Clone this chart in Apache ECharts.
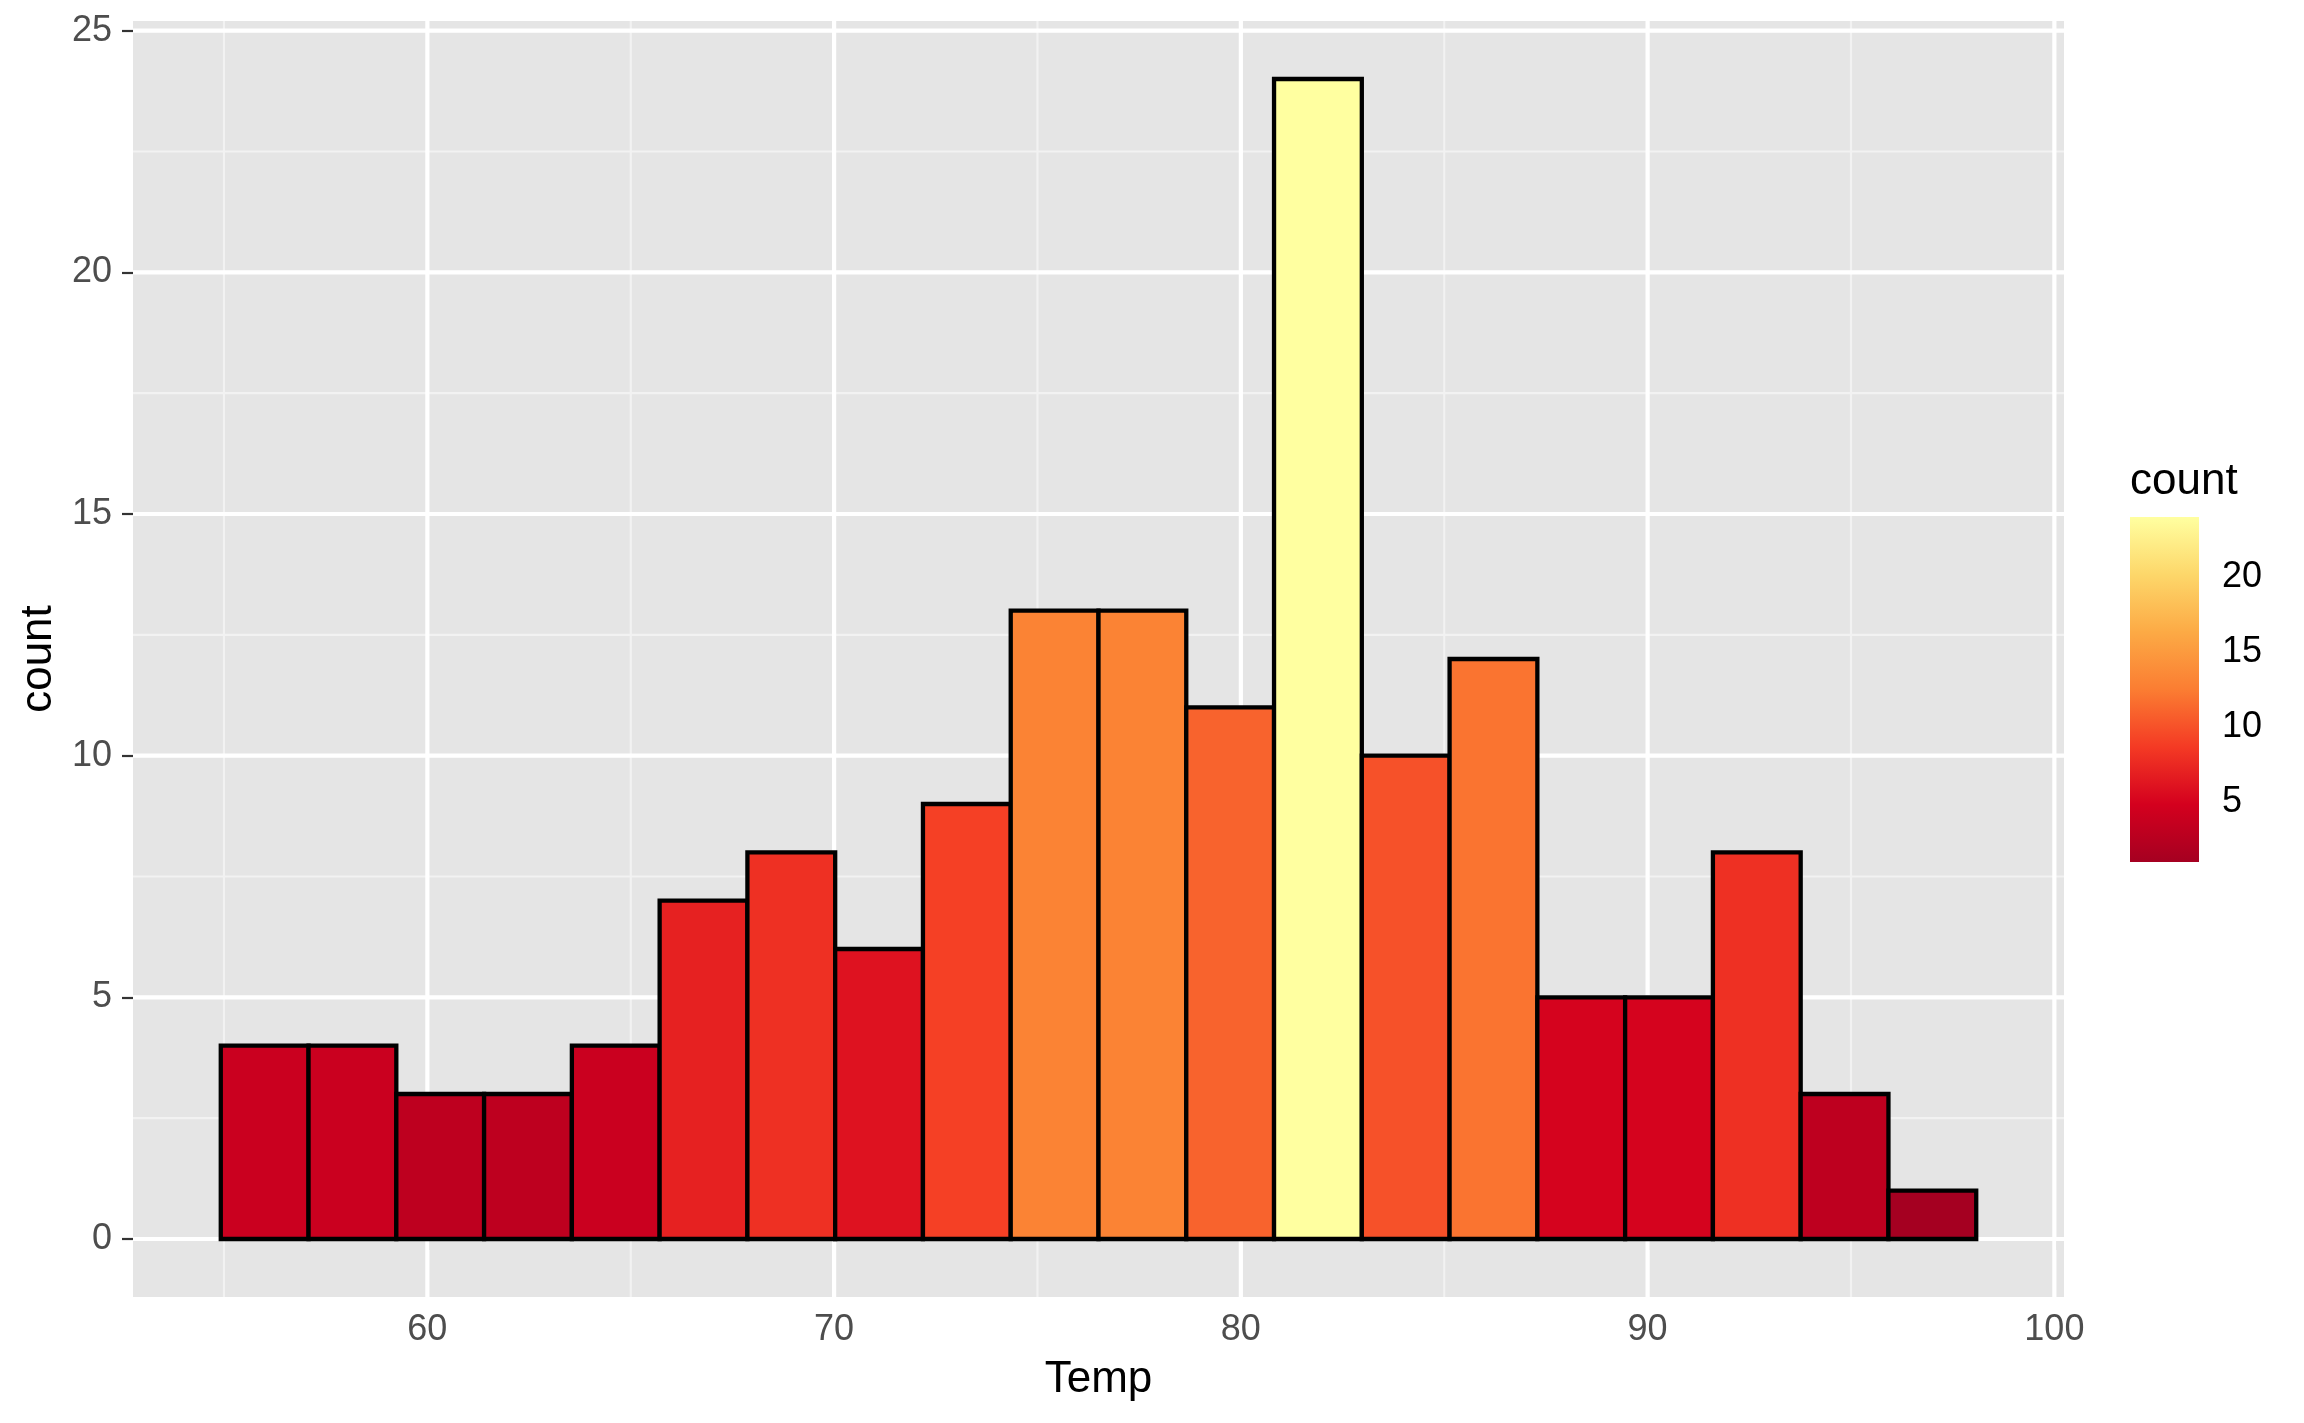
<!DOCTYPE html>
<html>
<head>
<meta charset="utf-8">
<script src="https://cdn.jsdelivr.net/npm/echarts@6/dist/echarts.min.js"></script>
<style>
  html, body { margin: 0; padding: 0; background: #ffffff; }
  #chart { width: 2304px; height: 1423px; }
</style>
</head>
<body>
<div id="chart"></div>
<script>
// ---- data ----
const tempRange = [56, 97];           // min / max of Temp (bin centres of first / last bin)
const counts = [4, 4, 3, 3, 4, 7, 8, 6, 9, 13, 13, 11, 24, 10, 12, 5, 5, 8, 3, 1];
const xTicks = [60, 70, 80, 90, 100];
const xMinor = [55, 65, 75, 85, 95];
const yTicks = [0, 5, 10, 15, 20, 25];
const yMinor = [2.5, 7.5, 12.5, 17.5, 22.5];
const legendTicks = [5, 10, 15, 20];
const palette = ['#A50021', '#D4001E', '#F43A24', '#FB7D32', '#FCAA45', '#FDD76A', '#FFFFA0'];

// ---- derived ----
const FONT = '"Liberation Sans", Arial, Helvetica, sans-serif';
const binWidth = (tempRange[1] - tempRange[0]) / (counts.length - 1);
const bars = counts.map((c, i) => {
  const mid = tempRange[0] + i * binWidth;
  return [mid - binWidth / 2, mid + binWidth / 2, c];
});
const xLo = bars[0][0], xHi = bars[bars.length - 1][1];
const xPad = (xHi - xLo) * 0.05;
const cMax = Math.max(...counts), cMin = Math.min(...counts);
const yPad = cMax * 0.05;

const gridRows = [];
xMinor.forEach(v => gridRows.push([v, 0, 0]));
yMinor.forEach(v => gridRows.push([v, 1, 0]));
xTicks.forEach(v => gridRows.push([v, 0, 1]));
yTicks.forEach(v => gridRows.push([v, 1, 1]));

const chart = echarts.init(document.getElementById('chart'), null, { renderer: 'canvas' });

const option = {
  animation: false,
  backgroundColor: '#ffffff',
  textStyle: { fontFamily: FONT },
  grid: [
    { left: 133, right: 240, top: 21, bottom: 126, show: true, backgroundColor: '#E5E5E5', borderWidth: 0 },
    { left: 2130, top: 517, width: 69, height: 345, show: false }
  ],
  xAxis: [
    {
      gridIndex: 0, type: 'value', min: xLo - xPad, max: xHi + xPad,
      axisLine: { show: false }, splitLine: { show: false },
      axisTick: { show: true, customValues: xTicks, length: 11, lineStyle: { color: '#333333', width: 2.2 } },
      axisLabel: { customValues: xTicks, fontSize: 36, color: '#4D4D4D', margin: 15, fontFamily: FONT },
      name: 'Temp', nameLocation: 'middle', nameGap: 61,
      nameTextStyle: { fontSize: 44, color: '#000000', fontFamily: FONT }
    },
    { gridIndex: 1, type: 'value', min: 0, max: 1, show: false }
  ],
  yAxis: [
    {
      gridIndex: 0, type: 'value', min: -yPad, max: cMax + yPad,
      axisLine: { show: false }, splitLine: { show: false },
      axisTick: { show: true, customValues: yTicks, length: 11, lineStyle: { color: '#333333', width: 2.2 } },
      axisLabel: { customValues: yTicks, fontSize: 36, color: '#4D4D4D', margin: 21, fontFamily: FONT, padding: [4, 0, 0, 0] },
      name: 'count', nameLocation: 'middle', nameGap: 66, nameRotate: 90,
      nameTextStyle: { fontSize: 44, color: '#000000', fontFamily: FONT }
    },
    {
      gridIndex: 1, type: 'value', min: cMin, max: cMax, position: 'right',
      axisLine: { show: false }, splitLine: { show: false },
      axisTick: { show: true, inside: true, customValues: legendTicks, length: 13, lineStyle: { color: '#ffffff', width: 2 } },
      axisLabel: { customValues: legendTicks, fontSize: 36, color: '#000000', margin: 23, fontFamily: FONT, padding: [10, 0, 0, 0] }
    },
    {
      gridIndex: 1, type: 'value', min: cMin, max: cMax, position: 'left',
      axisLine: { show: false }, splitLine: { show: false },
      axisTick: { show: true, inside: true, customValues: legendTicks, length: 13, lineStyle: { color: '#ffffff', width: 2 } },
      axisLabel: { show: false }
    }
  ],
  visualMap: {
    type: 'continuous', show: false, min: cMin, max: cMax, dimension: 2, seriesIndex: 1,
    inRange: { color: palette }
  },
  graphic: [
    {
      type: 'text', left: 2130, top: 460,
      style: { text: 'count', font: '44px ' + FONT, fill: '#000000' }
    }
  ],
  series: [
    {
      // panel grid lines
      type: 'custom', xAxisIndex: 0, yAxisIndex: 0, z: 1, silent: true,
      data: gridRows,
      renderItem: function (params, api) {
        const cs = params.coordSys;
        const v = api.value(0), isY = api.value(1), major = api.value(2);
        let shape;
        if (isY) {
          const p = api.coord([xLo, v]);
          shape = { x1: cs.x, y1: p[1], x2: cs.x + cs.width, y2: p[1] };
        } else {
          const p = api.coord([v, 0]);
          shape = { x1: p[0], y1: cs.y, x2: p[0], y2: cs.y + cs.height };
        }
        return {
          type: 'line', shape: shape,
          style: { stroke: major ? '#FFFFFF' : '#F2F2F2', lineWidth: major ? 4.2 : 2.1 }
        };
      }
    },
    {
      // histogram bars
      type: 'custom', xAxisIndex: 0, yAxisIndex: 0, z: 3,
      data: bars,
      encode: { x: [0, 1], y: 2 },
      renderItem: function (params, api) {
        const p0 = api.coord([api.value(0), api.value(2)]);
        const p1 = api.coord([api.value(1), 0]);
        return {
          type: 'rect',
          shape: { x: p0[0], y: p0[1], width: p1[0] - p0[0], height: p1[1] - p0[1] },
          style: { fill: api.visual('color'), stroke: '#000000', lineWidth: 4.3 }
        };
      }
    },
    {
      // colour bar of the legend
      type: 'custom', xAxisIndex: 1, yAxisIndex: 1, z: 1, silent: true,
      data: [[0, cMax, 1, cMin]],
      renderItem: function (params, api) {
        const p0 = api.coord([api.value(0), api.value(1)]);
        const p1 = api.coord([api.value(2), api.value(3)]);
        const stops = palette.slice().reverse().map((c, i, a) => ({ offset: i / (a.length - 1), color: c }));
        return {
          type: 'rect',
          shape: { x: p0[0], y: p0[1], width: p1[0] - p0[0], height: p1[1] - p0[1] },
          style: { fill: new echarts.graphic.LinearGradient(0, 0, 0, 1, stops) }
        };
      }
    }
  ]
};
chart.setOption(option);
</script>
</body>
</html>
